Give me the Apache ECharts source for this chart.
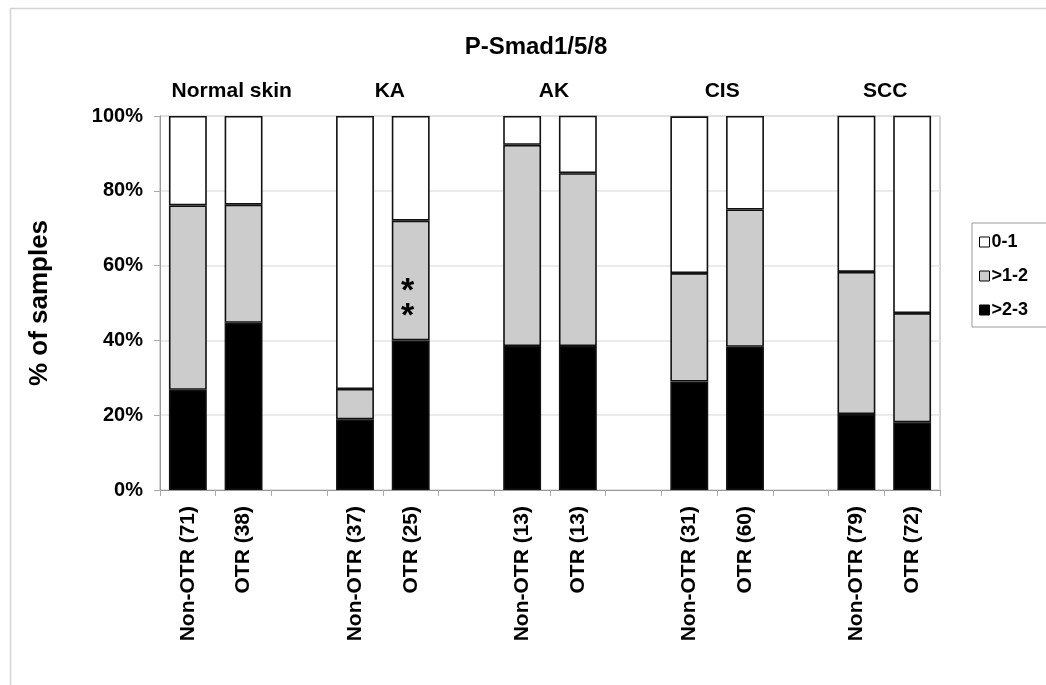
<!DOCTYPE html>
<html>
<head>
<meta charset="utf-8">
<script src="https://cdn.jsdelivr.net/npm/echarts@6/dist/echarts.min.js"></script>
<style>
html,body{margin:0;padding:0;background:#fff;}
#chart{width:1046px;height:685px;}
</style>
</head>
<body>
<div id="chart"></div>
<script>
var categories = ['Non-OTR (71)', 'OTR (38)', '', 'Non-OTR (37)', 'OTR (25)', '', 'Non-OTR (13)', 'OTR (13)', '', 'Non-OTR (31)', 'OTR (60)', '', 'Non-OTR (79)', 'OTR (72)'];
var groupNames = ['Normal skin', 'KA', 'AK', 'CIS', 'SCC'];
var groupSlots = [[0, 1], [3, 4], [6, 7], [9, 10], [12, 13]];
var seriesNames = ['>2-3', '>1-2', '0-1'];
var high = [26.8, 44.7, null, 18.9, 40.0, null, 38.5, 38.5, null, 29.0, 38.3, null, 20.3, 18.1];
var mid = [49.3, 31.6, null, 8.1, 32.0, null, 53.8, 46.2, null, 29.0, 36.7, null, 38.0, 29.2];
var low = [23.9, 23.7, null, 73.0, 28.0, null, 7.7, 15.4, null, 41.9, 25.0, null, 41.8, 52.8];
var yTicks = [0, 20, 40, 60, 80, 100];
var significant = [4];

var FONT = 'Liberation Sans, Arial, sans-serif';
var chart = echarts.init(document.getElementById('chart'), null, {renderer: 'canvas'});

function barSeries(name, data, color, idx) {
  return {
    name: name,
    type: 'bar',
    stack: 'total',
    barWidth: '68%',
    data: data.map(function (v, i) {
      var item = {value: v};
      if (idx === 1 && significant.indexOf(i) >= 0) {
        item.label = {
          show: true, position: 'inside', formatter: '*\n*',
          fontSize: 34, fontWeight: 'bold', color: '#000', lineHeight: 25,
          fontFamily: FONT, offset: [-3, 24]
        };
      }
      return item;
    }),
    itemStyle: {color: color, borderColor: '#111', borderWidth: 1.6},
    emphasis: {disabled: true},
    silent: true
  };
}

var option = {
  animation: false,
  backgroundColor: '#fff',
  title: {
    text: 'P-Smad1/5/8', left: 531, top: 30, textAlign: 'center',
    textStyle: {fontFamily: FONT, fontSize: 24, fontWeight: 'bold', color: '#000'}
  },
  legend: {
    data: ['0-1', '>1-2', '>2-3'],
    orient: 'vertical', left: 972, top: 223,
    padding: [10, 60, 8, 7],
    itemGap: 16, itemWidth: 10, itemHeight: 10,
    icon: 'rect',
    borderColor: '#999', borderWidth: 1,
    itemStyle: {borderColor: '#000', borderWidth: 1},
    textStyle: {fontFamily: FONT, fontSize: 18, fontWeight: 'bold', color: '#000', padding: [0, 0, 0, -3]},
    selectedMode: false
  },
  grid: {
    left: 160, top: 116, right: 106, bottom: 195,
    show: true, borderColor: '#aaa', borderWidth: 1
  },
  xAxis: {
    type: 'category', data: categories,
    axisLine: {lineStyle: {color: '#999', width: 1}},
    axisTick: {show: true, length: 6, lineStyle: {color: '#aaa'}},
    axisLabel: {
      rotate: 90, interval: 0, margin: 16,
      fontFamily: FONT, fontSize: 21, fontWeight: 'bold', color: '#000'
    },
    splitLine: {show: false}
  },
  yAxis: {
    type: 'value', min: 0, max: 100, interval: 20,
    name: '% of samples', nameLocation: 'middle', nameGap: 107, nameRotate: 90,
    nameTextStyle: {fontFamily: FONT, fontSize: 26, fontWeight: 'bold', color: '#000'},
    axisLine: {show: true, lineStyle: {color: '#999', width: 1}},
    axisTick: {show: true, length: 6, lineStyle: {color: '#aaa'}},
    axisLabel: {
      margin: 17,
      formatter: function (v) { return yTicks.indexOf(v) >= 0 ? v + '%' : ''; },
      fontFamily: FONT, fontSize: 20, fontWeight: 'bold', color: '#000'
    },
    splitLine: {show: true, lineStyle: {color: '#e4e4e4', width: 1.5}}
  },
  series: [
    barSeries(seriesNames[0], high, '#000000', 0),
    barSeries(seriesNames[1], mid, '#cccccc', 1),
    barSeries(seriesNames[2], low, '#ffffff', 2)
  ]
};
chart.setOption(option);

var graphics = [{
  type: 'rect', left: 8, top: 6, silent: true,
  shape: {width: 1200, height: 900},
  style: {fill: 'none', stroke: '#d4d4d4', lineWidth: 1.5},
  z: -1
}];
var labelShift = [16, 7, 4, 5, 1];
groupSlots.forEach(function (s, i) {
  var x0 = chart.convertToPixel({xAxisIndex: 0}, s[0]);
  var x1 = chart.convertToPixel({xAxisIndex: 0}, s[1]);
  var cx = (x0 + x1) / 2 + labelShift[i];
  graphics.push({
    type: 'text', x: cx, y: 91, silent: true,
    style: {
      text: groupNames[i], fontFamily: FONT, fontSize: 21, fontWeight: 'bold',
      fill: '#000', align: 'center', verticalAlign: 'middle'
    }
  });
});
chart.setOption({graphic: graphics});
</script>
</body>
</html>
